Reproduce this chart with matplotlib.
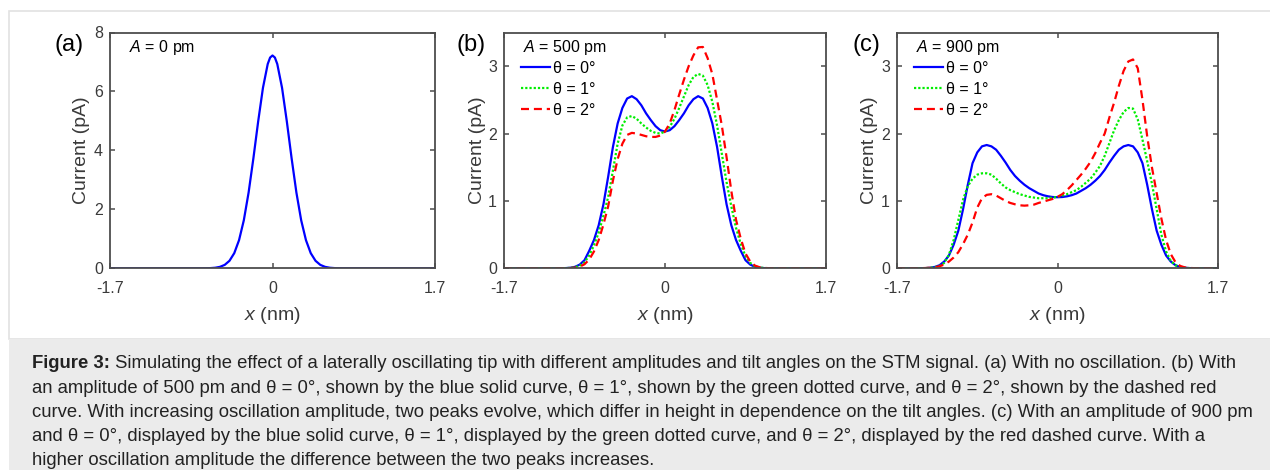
import numpy as np
import matplotlib
matplotlib.use("Agg")
import matplotlib.pyplot as plt
from matplotlib.patches import Rectangle

plt.rcParams['font.family'] = ['Liberation Sans', 'DejaVu Sans']
plt.rcParams['mathtext.fontset'] = 'custom'
plt.rcParams['mathtext.rm'] = 'Liberation Sans'
plt.rcParams['mathtext.it'] = 'Liberation Sans:italic'
plt.rcParams['axes.unicode_minus'] = False

# ---- data ----
# panel (a): A = 0 pm
x_a = [-1.7, -0.8, -0.75, -0.7, -0.65, -0.6, -0.55, -0.5, -0.45, -0.4, -0.35, -0.3, -0.25,
       -0.2, -0.15, -0.1, -0.05, -0.025, 0, 0.025, 0.05, 0.1, 0.15, 0.2, 0.25, 0.3, 0.35,
       0.4, 0.45, 0.5, 0.55, 0.6, 0.65, 0.7, 0.75, 0.8, 1.7]
i_a = [0, 0.0002, 0.0007, 0.0022, 0.0067, 0.019, 0.049, 0.116, 0.255, 0.514, 0.955, 1.63, 2.57,
       3.73, 4.98, 6.12, 6.93, 7.15, 7.22, 7.15, 6.93, 6.12, 4.98, 3.73, 2.57, 1.63, 0.955,
       0.514, 0.255, 0.116, 0.049, 0.019, 0.0067, 0.0022, 0.0007, 0.0002, 0]

# panels (b) and (c) share the same x samples
x_bc = [-1.7, -1.5, -1.45, -1.4, -1.35, -1.3, -1.25, -1.2, -1.15, -1.1, -1.05, -1.0, -0.95,
        -0.9, -0.85, -0.8, -0.75, -0.7, -0.65, -0.6, -0.55, -0.5, -0.45, -0.4, -0.35, -0.3,
        -0.25, -0.2, -0.15, -0.1, -0.05, 0, 0.05, 0.1, 0.15, 0.2, 0.25, 0.3, 0.35, 0.4, 0.45,
        0.5, 0.55, 0.6, 0.65, 0.7, 0.75, 0.8, 0.85, 0.9, 0.95, 1.0, 1.05, 1.1, 1.15, 1.2,
        1.25, 1.3, 1.35, 1.4, 1.45, 1.5, 1.7]

# panel (b): A = 500 pm, theta = 0, 1, 2 deg
b_t0 = [0, 0, 0, 0, 0, 0, 0, 0, 0, 0.001, 0.003, 0.008, 0.022,
        0.055, 0.12, 0.26, 0.42, 0.64, 0.95, 1.36, 1.80, 2.15, 2.38, 2.52, 2.555, 2.51,
        2.42, 2.30, 2.20, 2.11, 2.05, 2.03, 2.05, 2.11, 2.20, 2.30, 2.42, 2.51, 2.555, 2.52, 2.38,
        2.15, 1.80, 1.36, 0.95, 0.64, 0.42, 0.26, 0.12, 0.055, 0.022, 0.008, 0.003, 0.001, 0, 0,
        0, 0, 0, 0, 0, 0, 0]
b_t1 = [0, 0, 0, 0, 0, 0, 0, 0, 0, 0.001, 0.003, 0.006, 0.016,
        0.04, 0.09, 0.19, 0.34, 0.53, 0.78, 1.06, 1.45, 1.85, 2.12, 2.24, 2.26, 2.22,
        2.15, 2.09, 2.04, 2.01, 2.00, 2.03, 2.10, 2.22, 2.38, 2.55, 2.72, 2.84, 2.885, 2.86, 2.72,
        2.47, 2.12, 1.70, 1.28, 0.92, 0.60, 0.36, 0.18, 0.08, 0.03, 0.012, 0.004, 0.001, 0, 0,
        0, 0, 0, 0, 0, 0, 0]
b_t2 = [0, 0, 0, 0, 0, 0, 0, 0, 0, 0.001, 0.002, 0.004, 0.01,
        0.025, 0.06, 0.13, 0.25, 0.42, 0.65, 0.92, 1.30, 1.62, 1.85, 1.98, 2.01, 2.00,
        1.98, 1.96, 1.95, 1.95, 1.97, 2.03, 2.15, 2.35, 2.58, 2.80, 3.00, 3.16, 3.28, 3.285, 3.12,
        2.88, 2.50, 2.12, 1.65, 1.15, 0.72, 0.44, 0.22, 0.10, 0.04, 0.015, 0.005, 0.002, 0.001, 0,
        0, 0, 0, 0, 0, 0, 0]

# panel (c): A = 900 pm, theta = 0, 1, 2 deg
c_t0 = [0, 0, 0.001, 0.003, 0.008, 0.02, 0.045, 0.10, 0.19, 0.35, 0.56, 0.88, 1.24,
        1.56, 1.72, 1.81, 1.83, 1.81, 1.76, 1.67, 1.57, 1.46, 1.37, 1.30, 1.24, 1.19,
        1.15, 1.11, 1.085, 1.068, 1.058, 1.055, 1.058, 1.068, 1.085, 1.11, 1.15, 1.19, 1.24, 1.30, 1.37,
        1.46, 1.57, 1.67, 1.76, 1.81, 1.83, 1.81, 1.72, 1.56, 1.24, 0.88, 0.56, 0.35, 0.19, 0.10,
        0.045, 0.02, 0.008, 0.003, 0.001, 0, 0]
c_t1 = [0, 0, 0.001, 0.003, 0.007, 0.016, 0.035, 0.08, 0.2, 0.42, 0.72, 1.02, 1.22,
        1.33, 1.39, 1.41, 1.41, 1.39, 1.33, 1.26, 1.20, 1.16, 1.13, 1.10, 1.08, 1.06,
        1.05, 1.04, 1.04, 1.04, 1.05, 1.06, 1.08, 1.10, 1.13, 1.16, 1.21, 1.27, 1.33, 1.42, 1.52,
        1.67, 1.86, 2.05, 2.20, 2.32, 2.38, 2.37, 2.21, 1.91, 1.59, 1.26, 0.88, 0.50, 0.25, 0.11,
        0.045, 0.018, 0.007, 0.003, 0.001, 0, 0]
c_t2 = [0, 0.001, 0.002, 0.004, 0.008, 0.015, 0.03, 0.055, 0.10, 0.16, 0.24, 0.36, 0.50,
        0.68, 0.90, 1.04, 1.09, 1.10, 1.08, 1.04, 1.00, 0.97, 0.95, 0.935, 0.93, 0.935,
        0.945, 0.97, 0.99, 1.01, 1.03, 1.06, 1.10, 1.16, 1.23, 1.31, 1.39, 1.48, 1.58, 1.71, 1.86,
        2.00, 2.24, 2.46, 2.71, 2.93, 3.07, 3.10, 2.97, 2.50, 1.96, 1.50, 1.12, 0.74, 0.42, 0.21,
        0.09, 0.035, 0.013, 0.005, 0.002, 0.001, 0]

theta_labels = ['θ = 0°', 'θ = 1°', 'θ = 2°']
panel_names = ['(a)', '(b)', '(c)']
amp_labels = [r'$\mathit{A}$ = 0 pm', r'$\mathit{A}$ = 500 pm', r'$\mathit{A}$ = 900 pm']

caption_lines = [
    'Simulating the effect of a laterally oscillating tip with different amplitudes and tilt angles on the STM signal. (a) With no oscillation. (b) With',
    'an amplitude of 500 pm and θ = 0°, shown by the blue solid curve, θ = 1°, shown by the green dotted curve, and θ = 2°, shown by the dashed red',
    'curve. With increasing oscillation amplitude, two peaks evolve, which differ in height in dependence on the tilt angles. (c) With an amplitude of 900 pm',
    'and θ = 0°, displayed by the blue solid curve, θ = 1°, displayed by the green dotted curve, and θ = 2°, displayed by the red dashed curve. With a',
    'higher oscillation amplitude the difference between the two peaks increases.',
]

# ---- figure ----
W, H = 1270, 470
fig = plt.figure(figsize=(W / 100, H / 100), dpi=100)


def box(l, r, t, b):
    return [l / W, 1 - b / H, (r - l) / W, (b - t) / H]


# outer frame and caption background (behind the axes)
fig.patches.append(Rectangle((9 / W, 1 - 339 / H), 1.0, (339 - 10.5) / H, transform=fig.transFigure,
                             facecolor='white', edgecolor='#e2e2e2', lw=1.2, zorder=-2))
fig.patches.append(Rectangle((9 / W, 0), 1.0, (470 - 339) / H, transform=fig.transFigure,
                             facecolor='#ebebeb', edgecolor='none', zorder=-1))

spine_col = '#4d4d4d'
styles = [dict(color='#0000ff', ls='-', lw=1.6),
          dict(color='#00ee00', ls=(0, (1, 0.9)), lw=1.6),
          dict(color='#ff0000', ls=(0, (3.6, 2.2)), lw=1.6)]

axes = [fig.add_axes(box(110, 435, 32.5, 268.3)),
        fig.add_axes(box(504, 826, 32.5, 268.3)),
        fig.add_axes(box(897, 1218, 32.5, 268.3))]

axes[0].plot(x_a, i_a, **styles[0])
for ax, series in zip(axes[1:], [[b_t0, b_t1, b_t2], [c_t0, c_t1, c_t2]]):
    for ys, st, lab in zip(series, styles, theta_labels):
        ax.plot(x_bc, ys, label=lab, **st)

for k, ax in enumerate(axes):
    ax.set_xlim(-1.7, 1.7)
    ax.set_xticks([-1.7, 0, 1.7])
    ax.set_xticklabels(['-1.7', '0', '1.7'])
    if k == 0:
        ax.set_ylim(0, 8)
        ax.set_yticks([0, 2, 4, 6, 8])
    else:
        ax.set_ylim(0, 3.5)
        ax.set_yticks([0, 1, 2, 3])
    ax.tick_params(direction='in', top=True, right=True, length=3.5, width=1.1,
                   color=spine_col, labelcolor='#3a3a3a', labelsize=11.5)
    ax.tick_params(axis='x', pad=9)
    ax.tick_params(axis='y', pad=5)
    for sp in ax.spines.values():
        sp.set_color(spine_col)
        sp.set_linewidth(1.3)
    ax.set_xlabel(r'$\mathit{x}$ (nm)', fontsize=14, color='#3a3a3a')
    ax.set_ylabel('Current (pA)', fontsize=14, color='#3a3a3a')
    ax.xaxis.set_label_coords(0.5, -0.155)
    ax.text(0.058, 0.935, amp_labels[k], transform=ax.transAxes, fontsize=11.5,
            va='center', ha='left')

axes[0].yaxis.set_label_coords(-0.061, 0.5)
axes[1].yaxis.set_label_coords(-0.055, 0.5)
axes[2].yaxis.set_label_coords(-0.059, 0.5)

for ax in axes[1:]:
    ax.legend(loc='upper left', bbox_to_anchor=(0.054, 0.879), frameon=False,
              fontsize=11.5, handlelength=1.78, handletextpad=0.2,
              labelspacing=0.36, borderpad=0, borderaxespad=0)

for name, xp in zip(panel_names, [55, 457, 852]):
    fig.text(xp / W, 1 - 45 / H, name, fontsize=17, ha='left', va='center')

# caption
cap_x = 32
baselines = [368.3, 392.7, 416.7, 440.7, 464.7]
cap_size = 11.8
renderer = fig.canvas.get_renderer()
probe = fig.text(0, 0, caption_lines[2], fontsize=cap_size)
w = probe.get_window_extent(renderer).width
probe.remove()
cap_size = cap_size * 1225 / w

bold = fig.text(cap_x / W, 1 - baselines[0] / H, 'Figure 3:', fontsize=cap_size,
                fontweight='bold', va='baseline', ha='left', color='#222222')
bw = bold.get_window_extent(renderer).width
fig.text((cap_x + bw) / W, 1 - baselines[0] / H, ' ' + caption_lines[0], fontsize=cap_size,
         va='baseline', ha='left', color='#222222')
for line, yb in zip(caption_lines[1:], baselines[1:]):
    fig.text(cap_x / W, 1 - yb / H, line, fontsize=cap_size, va='baseline', ha='left',
             color='#222222')

fig.savefig('out.png', dpi=100)
